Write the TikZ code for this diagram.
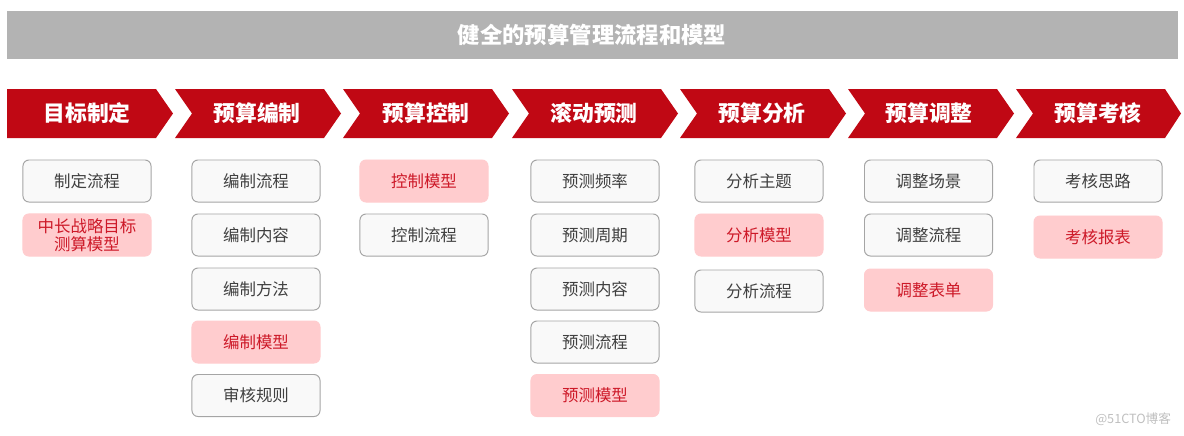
\documentclass[tikz,border=0pt]{standalone}
\usepackage{fontspec}
\setmainfont{Noto Sans CJK SC}
\usepackage{tikz}

\definecolor{barred}{RGB}{192,8,20}
\definecolor{bargray}{RGB}{179,179,179}
\definecolor{boxline}{RGB}{165,165,165}
\definecolor{boxfill}{RGB}{249,249,249}
\definecolor{boxtext}{RGB}{64,64,64}
\definecolor{pinkfill}{RGB}{255,204,206}
\definecolor{pinktext}{RGB}{205,25,40}

\tikzset{
  stage/.style={text=white, font=\fontsize{15.5}{18}\selectfont\bfseries},
  item/.style={draw=boxline, fill=boxfill, text=boxtext, rounded corners=0.15cm, line width=0.7pt,
    minimum width=3.2cm, minimum height=1.05cm, font=\fontsize{11.7}{13}\selectfont},
  keyitem/.style={item, draw=pinkfill, fill=pinkfill, text=pinktext, align=center,
    font=\fontsize{11.7}{12.5}\selectfont}
}

\begin{document}
\begin{tikzpicture}[x=0.025cm, y=-0.025cm]

\useasboundingbox (0,0) rectangle (1184,435);

\fill[bargray] (7,11) rectangle (1178,59);
\node[text=white, font=\fontsize{15.9}{18}\selectfont\bfseries] (title) at (592,35) {健全的预算管理流程和模型};

\fill[barred] (7,89) -- (156,89) -- (173,113.5) -- (156,138) -- (7,138) -- cycle;
\fill[barred] (175,89) -- (324,89) -- (341,113.5) -- (324,138) -- (175,138) -- (192,113.5) -- cycle;
\fill[barred] (343,89) -- (492,89) -- (509,113.5) -- (492,138) -- (343,138) -- (360,113.5) -- cycle;
\fill[barred] (512,89) -- (661,89) -- (678,113.5) -- (661,138) -- (512,138) -- (529,113.5) -- cycle;
\fill[barred] (680,89) -- (829,89) -- (846,113.5) -- (829,138) -- (680,138) -- (697,113.5) -- cycle;
\fill[barred] (848,89) -- (997,89) -- (1014,113.5) -- (997,138) -- (848,138) -- (865,113.5) -- cycle;
\fill[barred] (1016,89) -- (1165,89) -- (1181,113.5) -- (1165,138) -- (1016,138) -- (1033,113.5) -- cycle;

\node[stage] (s1) at (87,113.5) {目标制定};
\node[stage] (s2) at (257,113.5) {预算编制};
\node[stage] (s3) at (426,113.5) {预算控制};
\node[stage] (s4) at (594,113.5) {滚动预测};
\node[stage] (s5) at (762,113.5) {预算分析};
\node[stage] (s6) at (929,113.5) {预算调整};
\node[stage] (s7) at (1098,113.5) {预算考核};

\node[item] (a1) at (87,181) {制定流程};
\node[keyitem] (a2) at (87,235) {中长战略目标\\测算模型};

\node[item] (b1) at (256,181) {编制流程};
\node[item] (b2) at (256,235) {编制内容};
\node[item] (b3) at (256,289) {编制方法};
\node[keyitem] (b4) at (256,342) {编制模型};
\node[item] (b5) at (256,395.5) {审核规则};

\node[keyitem] (c1) at (424,181) {控制模型};
\node[item] (c2) at (424,235) {控制流程};

\node[item] (d1) at (595,181) {预测频率};
\node[item] (d2) at (595,235) {预测周期};
\node[item] (d3) at (595,289) {预测内容};
\node[item] (d4) at (595,342) {预测流程};
\node[keyitem] (d5) at (595,395.5) {预测模型};

\node[item] (e1) at (759,181) {分析主题};
\node[keyitem] (e2) at (759,235) {分析模型};
\node[item] (e3) at (759,291) {分析流程};

\node[item] (f1) at (928.5,181) {调整场景};
\node[item] (f2) at (928.5,235) {调整流程};
\node[keyitem] (f3) at (928.5,290) {调整表单};

\node[item] (g1) at (1098,181) {考核思路};
\node[keyitem] (g2) at (1098,237) {考核报表};

\node[text=black!25, font=\fontsize{9}{10}\selectfont, anchor=east] (mark) at (1176,419) {@51CTO博客};

\end{tikzpicture}
\end{document}
